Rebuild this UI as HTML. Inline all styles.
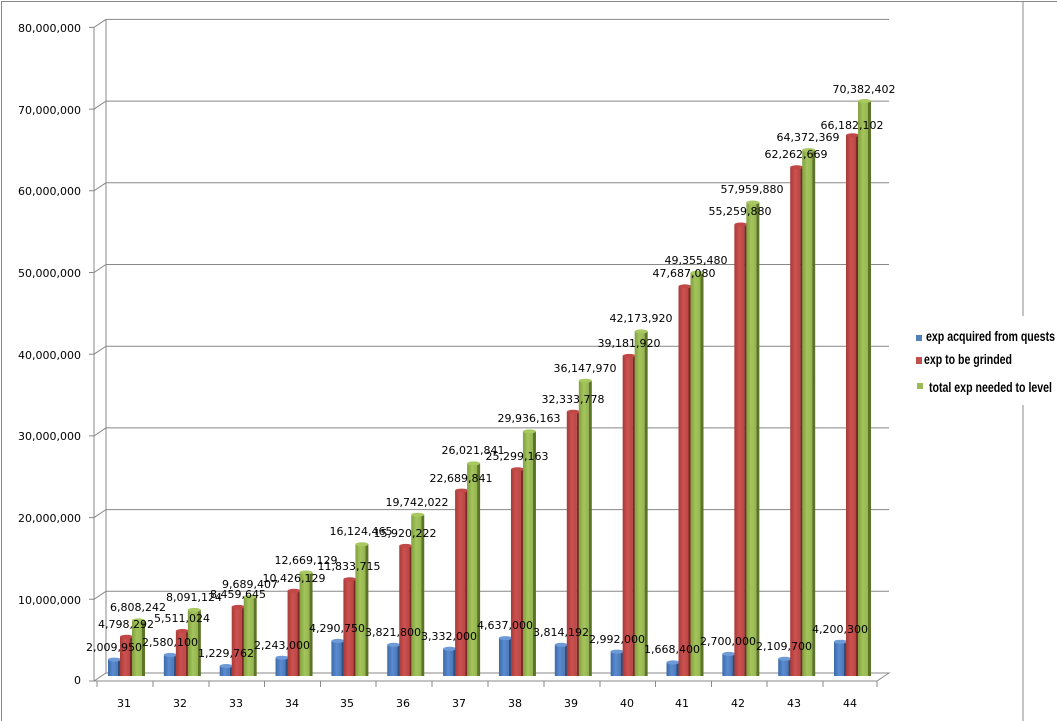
<!DOCTYPE html>
<html><head><meta charset="utf-8"><style>
html,body{margin:0;padding:0;background:#fff;}
svg{display:block}
.t{font-family:"DejaVu Sans","Liberation Sans",sans-serif;font-size:11px;fill:#000}
.lg{font-family:"Liberation Sans Narrow","Liberation Sans",sans-serif;font-weight:bold;font-size:14px;fill:#000}
</style></head><body>
<svg width="1057" height="721" viewBox="0 0 1057 721" xmlns="http://www.w3.org/2000/svg">
<defs>
<linearGradient id="gb" x1="0" x2="1"><stop offset="0" stop-color="#3a6aa8"/><stop offset="0.5" stop-color="#5b8bd0"/><stop offset="1" stop-color="#4a78b8"/></linearGradient>
<linearGradient id="gr" x1="0" x2="1"><stop offset="0" stop-color="#a83a38"/><stop offset="0.5" stop-color="#cc5250"/><stop offset="1" stop-color="#b84644"/></linearGradient>
<linearGradient id="gg" x1="0" x2="1"><stop offset="0" stop-color="#82a040"/><stop offset="0.5" stop-color="#a4c45c"/><stop offset="1" stop-color="#94b44e"/></linearGradient>
</defs>
<rect x="1.5" y="1.5" width="1060" height="730" fill="none" stroke="#888"/>
<line x1="1023" y1="1" x2="1023" y2="316" stroke="#888"/>
<line x1="1023" y1="405" x2="1023" y2="721" stroke="#888"/>
<g stroke="#888" fill="none" stroke-width="1">
<line x1="106" y1="19" x2="106" y2="673"/>
<line x1="94" y1="27" x2="94" y2="681"/>
<path d="M89 27.4H94L106 19.4H889"/>
<path d="M89 109.1H94L106 101.1H889"/>
<path d="M89 190.8H94L106 182.8H889"/>
<path d="M89 272.5H94L106 264.5H889"/>
<path d="M89 354.2H94L106 346.2H889"/>
<path d="M89 435.9H94L106 427.9H889"/>
<path d="M89 517.6H94L106 509.6H889"/>
<path d="M89 599.3H94L106 591.3H889"/>
<path d="M89 681H94L106 673H889L877 681H94"/>
<path d="M97 681V687M153 681V687M209 681V687M264.5 681V687M320.5 681V687M376 681V687M432 681V687M488 681V687M544 681V687M600 681V687M655.5 681V687M711.5 681V687M767 681V687M823 681V687M877 681V687"/>
</g>
<g class="t" text-anchor="end">
<text x="81" y="32">80,000,000</text><text x="81" y="114">70,000,000</text><text x="81" y="195">60,000,000</text><text x="81" y="277">50,000,000</text><text x="81" y="359">40,000,000</text><text x="81" y="440">30,000,000</text><text x="81" y="522">20,000,000</text><text x="81" y="604">10,000,000</text><text x="81" y="684">0</text>
</g>
<g class="t" text-anchor="middle">
<text x="124" y="707">31</text><text x="180" y="707">32</text><text x="236" y="707">33</text><text x="292" y="707">34</text><text x="347" y="707">35</text><text x="403" y="707">36</text><text x="459" y="707">37</text><text x="515" y="707">38</text><text x="571" y="707">39</text><text x="627" y="707">40</text><text x="682" y="707">41</text><text x="738" y="707">42</text><text x="794" y="707">43</text><text x="850" y="707">44</text>
</g>
<g>
<g transform="translate(108,676)">
<rect x="0" y="-16.4" width="10" height="16.4" fill="url(#gb)"/><rect x="10" y="-16.4" width="3" height="16.4" fill="#2c4f80"/><ellipse cx="6.5" cy="-16.4" rx="6.5" ry="2" fill="#6f9ad8"/>
<rect x="12" y="-39.2" width="10" height="39.2" fill="url(#gr)"/><rect x="22" y="-39.2" width="3" height="39.2" fill="#7c2826"/><ellipse cx="18.5" cy="-39.2" rx="6.5" ry="2" fill="#c04846"/>
<rect x="24" y="-55.6" width="10" height="55.6" fill="url(#gg)"/><rect x="34" y="-55.6" width="3" height="55.6" fill="#5c7428"/><ellipse cx="30.5" cy="-55.6" rx="6.5" ry="2" fill="#a8c862"/>
</g>
<g transform="translate(163.85,676)">
<rect x="0" y="-21.1" width="10" height="21.1" fill="url(#gb)"/><rect x="10" y="-21.1" width="3" height="21.1" fill="#2c4f80"/><ellipse cx="6.5" cy="-21.1" rx="6.5" ry="2" fill="#6f9ad8"/>
<rect x="12" y="-45" width="10" height="45" fill="url(#gr)"/><rect x="22" y="-45" width="3" height="45" fill="#7c2826"/><ellipse cx="18.5" cy="-45" rx="6.5" ry="2" fill="#c04846"/>
<rect x="24" y="-66.1" width="10" height="66.1" fill="url(#gg)"/><rect x="34" y="-66.1" width="3" height="66.1" fill="#5c7428"/><ellipse cx="30.5" cy="-66.1" rx="6.5" ry="2" fill="#a8c862"/>
</g>
<g transform="translate(219.7,676)">
<rect x="0" y="-10" width="10" height="10" fill="url(#gb)"/><rect x="10" y="-10" width="3" height="10" fill="#2c4f80"/><ellipse cx="6.5" cy="-10" rx="6.5" ry="2" fill="#6f9ad8"/>
<rect x="12" y="-69.1" width="10" height="69.1" fill="url(#gr)"/><rect x="22" y="-69.1" width="3" height="69.1" fill="#7c2826"/><ellipse cx="18.5" cy="-69.1" rx="6.5" ry="2" fill="#c04846"/>
<rect x="24" y="-79.2" width="10" height="79.2" fill="url(#gg)"/><rect x="34" y="-79.2" width="3" height="79.2" fill="#5c7428"/><ellipse cx="30.5" cy="-79.2" rx="6.5" ry="2" fill="#a8c862"/>
</g>
<g transform="translate(275.55,676)">
<rect x="0" y="-18.3" width="10" height="18.3" fill="url(#gb)"/><rect x="10" y="-18.3" width="3" height="18.3" fill="#2c4f80"/><ellipse cx="6.5" cy="-18.3" rx="6.5" ry="2" fill="#6f9ad8"/>
<rect x="12" y="-85.2" width="10" height="85.2" fill="url(#gr)"/><rect x="22" y="-85.2" width="3" height="85.2" fill="#7c2826"/><ellipse cx="18.5" cy="-85.2" rx="6.5" ry="2" fill="#c04846"/>
<rect x="24" y="-103.5" width="10" height="103.5" fill="url(#gg)"/><rect x="34" y="-103.5" width="3" height="103.5" fill="#5c7428"/><ellipse cx="30.5" cy="-103.5" rx="6.5" ry="2" fill="#a8c862"/>
</g>
<g transform="translate(331.4,676)">
<rect x="0" y="-35.1" width="10" height="35.1" fill="url(#gb)"/><rect x="10" y="-35.1" width="3" height="35.1" fill="#2c4f80"/><ellipse cx="6.5" cy="-35.1" rx="6.5" ry="2" fill="#6f9ad8"/>
<rect x="12" y="-96.7" width="10" height="96.7" fill="url(#gr)"/><rect x="22" y="-96.7" width="3" height="96.7" fill="#7c2826"/><ellipse cx="18.5" cy="-96.7" rx="6.5" ry="2" fill="#c04846"/>
<rect x="24" y="-131.7" width="10" height="131.7" fill="url(#gg)"/><rect x="34" y="-131.7" width="3" height="131.7" fill="#5c7428"/><ellipse cx="30.5" cy="-131.7" rx="6.5" ry="2" fill="#a8c862"/>
</g>
<g transform="translate(387.25,676)">
<rect x="0" y="-31.2" width="10" height="31.2" fill="url(#gb)"/><rect x="10" y="-31.2" width="3" height="31.2" fill="#2c4f80"/><ellipse cx="6.5" cy="-31.2" rx="6.5" ry="2" fill="#6f9ad8"/>
<rect x="12" y="-130.1" width="10" height="130.1" fill="url(#gr)"/><rect x="22" y="-130.1" width="3" height="130.1" fill="#7c2826"/><ellipse cx="18.5" cy="-130.1" rx="6.5" ry="2" fill="#c04846"/>
<rect x="24" y="-161.3" width="10" height="161.3" fill="url(#gg)"/><rect x="34" y="-161.3" width="3" height="161.3" fill="#5c7428"/><ellipse cx="30.5" cy="-161.3" rx="6.5" ry="2" fill="#a8c862"/>
</g>
<g transform="translate(443.1,676)">
<rect x="0" y="-27.2" width="10" height="27.2" fill="url(#gb)"/><rect x="10" y="-27.2" width="3" height="27.2" fill="#2c4f80"/><ellipse cx="6.5" cy="-27.2" rx="6.5" ry="2" fill="#6f9ad8"/>
<rect x="12" y="-185.4" width="10" height="185.4" fill="url(#gr)"/><rect x="22" y="-185.4" width="3" height="185.4" fill="#7c2826"/><ellipse cx="18.5" cy="-185.4" rx="6.5" ry="2" fill="#c04846"/>
<rect x="24" y="-212.6" width="10" height="212.6" fill="url(#gg)"/><rect x="34" y="-212.6" width="3" height="212.6" fill="#5c7428"/><ellipse cx="30.5" cy="-212.6" rx="6.5" ry="2" fill="#a8c862"/>
</g>
<g transform="translate(498.95,676)">
<rect x="0" y="-37.9" width="10" height="37.9" fill="url(#gb)"/><rect x="10" y="-37.9" width="3" height="37.9" fill="#2c4f80"/><ellipse cx="6.5" cy="-37.9" rx="6.5" ry="2" fill="#6f9ad8"/>
<rect x="12" y="-206.7" width="10" height="206.7" fill="url(#gr)"/><rect x="22" y="-206.7" width="3" height="206.7" fill="#7c2826"/><ellipse cx="18.5" cy="-206.7" rx="6.5" ry="2" fill="#c04846"/>
<rect x="24" y="-244.6" width="10" height="244.6" fill="url(#gg)"/><rect x="34" y="-244.6" width="3" height="244.6" fill="#5c7428"/><ellipse cx="30.5" cy="-244.6" rx="6.5" ry="2" fill="#a8c862"/>
</g>
<g transform="translate(554.8,676)">
<rect x="0" y="-31.2" width="10" height="31.2" fill="url(#gb)"/><rect x="10" y="-31.2" width="3" height="31.2" fill="#2c4f80"/><ellipse cx="6.5" cy="-31.2" rx="6.5" ry="2" fill="#6f9ad8"/>
<rect x="12" y="-264.2" width="10" height="264.2" fill="url(#gr)"/><rect x="22" y="-264.2" width="3" height="264.2" fill="#7c2826"/><ellipse cx="18.5" cy="-264.2" rx="6.5" ry="2" fill="#c04846"/>
<rect x="24" y="-295.3" width="10" height="295.3" fill="url(#gg)"/><rect x="34" y="-295.3" width="3" height="295.3" fill="#5c7428"/><ellipse cx="30.5" cy="-295.3" rx="6.5" ry="2" fill="#a8c862"/>
</g>
<g transform="translate(610.65,676)">
<rect x="0" y="-24.4" width="10" height="24.4" fill="url(#gb)"/><rect x="10" y="-24.4" width="3" height="24.4" fill="#2c4f80"/><ellipse cx="6.5" cy="-24.4" rx="6.5" ry="2" fill="#6f9ad8"/>
<rect x="12" y="-320.1" width="10" height="320.1" fill="url(#gr)"/><rect x="22" y="-320.1" width="3" height="320.1" fill="#7c2826"/><ellipse cx="18.5" cy="-320.1" rx="6.5" ry="2" fill="#c04846"/>
<rect x="24" y="-344.6" width="10" height="344.6" fill="url(#gg)"/><rect x="34" y="-344.6" width="3" height="344.6" fill="#5c7428"/><ellipse cx="30.5" cy="-344.6" rx="6.5" ry="2" fill="#a8c862"/>
</g>
<g transform="translate(666.5,676)">
<rect x="0" y="-13.6" width="10" height="13.6" fill="url(#gb)"/><rect x="10" y="-13.6" width="3" height="13.6" fill="#2c4f80"/><ellipse cx="6.5" cy="-13.6" rx="6.5" ry="2" fill="#6f9ad8"/>
<rect x="12" y="-389.6" width="10" height="389.6" fill="url(#gr)"/><rect x="22" y="-389.6" width="3" height="389.6" fill="#7c2826"/><ellipse cx="18.5" cy="-389.6" rx="6.5" ry="2" fill="#c04846"/>
<rect x="24" y="-403.2" width="10" height="403.2" fill="url(#gg)"/><rect x="34" y="-403.2" width="3" height="403.2" fill="#5c7428"/><ellipse cx="30.5" cy="-403.2" rx="6.5" ry="2" fill="#a8c862"/>
</g>
<g transform="translate(722.35,676)">
<rect x="0" y="-22.1" width="10" height="22.1" fill="url(#gb)"/><rect x="10" y="-22.1" width="3" height="22.1" fill="#2c4f80"/><ellipse cx="6.5" cy="-22.1" rx="6.5" ry="2" fill="#6f9ad8"/>
<rect x="12" y="-451.5" width="10" height="451.5" fill="url(#gr)"/><rect x="22" y="-451.5" width="3" height="451.5" fill="#7c2826"/><ellipse cx="18.5" cy="-451.5" rx="6.5" ry="2" fill="#c04846"/>
<rect x="24" y="-473.5" width="10" height="473.5" fill="url(#gg)"/><rect x="34" y="-473.5" width="3" height="473.5" fill="#5c7428"/><ellipse cx="30.5" cy="-473.5" rx="6.5" ry="2" fill="#a8c862"/>
</g>
<g transform="translate(778.2,676)">
<rect x="0" y="-17.2" width="10" height="17.2" fill="url(#gb)"/><rect x="10" y="-17.2" width="3" height="17.2" fill="#2c4f80"/><ellipse cx="6.5" cy="-17.2" rx="6.5" ry="2" fill="#6f9ad8"/>
<rect x="12" y="-508.7" width="10" height="508.7" fill="url(#gr)"/><rect x="22" y="-508.7" width="3" height="508.7" fill="#7c2826"/><ellipse cx="18.5" cy="-508.7" rx="6.5" ry="2" fill="#c04846"/>
<rect x="24" y="-525.9" width="10" height="525.9" fill="url(#gg)"/><rect x="34" y="-525.9" width="3" height="525.9" fill="#5c7428"/><ellipse cx="30.5" cy="-525.9" rx="6.5" ry="2" fill="#a8c862"/>
</g>
<g transform="translate(834,676)">
<rect x="0" y="-34.3" width="10" height="34.3" fill="url(#gb)"/><rect x="10" y="-34.3" width="3" height="34.3" fill="#2c4f80"/><ellipse cx="6.5" cy="-34.3" rx="6.5" ry="2" fill="#6f9ad8"/>
<rect x="12" y="-540.7" width="10" height="540.7" fill="url(#gr)"/><rect x="22" y="-540.7" width="3" height="540.7" fill="#7c2826"/><ellipse cx="18.5" cy="-540.7" rx="6.5" ry="2" fill="#c04846"/>
<rect x="24" y="-575" width="10" height="575" fill="url(#gg)"/><rect x="34" y="-575" width="3" height="575" fill="#5c7428"/><ellipse cx="30.5" cy="-575" rx="6.5" ry="2" fill="#a8c862"/>
</g>
</g>
<g class="t" text-anchor="middle">
<text x="114" y="651">2,009,950</text><text x="126" y="628">4,798,292</text><text x="138" y="611">6,808,242</text>
<text x="170" y="646">2,580,100</text><text x="182" y="622">5,511,024</text><text x="194" y="601">8,091,124</text>
<text x="226" y="657">1,229,762</text><text x="238" y="598">8,459,645</text><text x="250" y="588">9,689,407</text>
<text x="282" y="649">2,243,000</text><text x="294" y="582">10,426,129</text><text x="306" y="564">12,669,129</text>
<text x="337" y="632">4,290,750</text><text x="349" y="570">11,833,715</text><text x="361" y="535">16,124,465</text>
<text x="393" y="636">3,821,800</text><text x="405" y="537">15,920,222</text><text x="417" y="506">19,742,022</text>
<text x="449" y="640">3,332,000</text><text x="461" y="482">22,689,841</text><text x="473" y="454">26,021,841</text>
<text x="505" y="629">4,637,000</text><text x="517" y="460">25,299,163</text><text x="529" y="422">29,936,163</text>
<text x="561" y="636">3,814,192</text><text x="573" y="403">32,333,778</text><text x="585" y="372">36,147,970</text>
<text x="617" y="643">2,992,000</text><text x="629" y="347">39,181,920</text><text x="641" y="322">42,173,920</text>
<text x="672" y="653">1,668,400</text><text x="684" y="277">47,687,080</text><text x="696" y="264">49,355,480</text>
<text x="728" y="645">2,700,000</text><text x="740" y="215">55,259,880</text><text x="752" y="193">57,959,880</text>
<text x="784" y="650">2,109,700</text><text x="796" y="158">62,262,669</text><text x="808" y="141">64,372,369</text>
<text x="840" y="633">4,200,300</text><text x="852" y="129">66,182,102</text><text x="864" y="93">70,382,402</text>
</g>
<rect x="916" y="335" width="6" height="6" fill="#4f81bd"/>
<rect x="916" y="357" width="6" height="7" fill="#c0504d"/>
<rect x="917" y="383" width="6" height="6" fill="#9bbb59"/>
<g class="lg">
<text x="926" y="341" textLength="129" lengthAdjust="spacingAndGlyphs">exp acquired from quests</text>
<text x="924" y="364" textLength="88" lengthAdjust="spacingAndGlyphs">exp to be grinded</text>
<text x="929" y="392" textLength="123" lengthAdjust="spacingAndGlyphs">total exp needed to level</text>
</g>
</svg>
</body></html>
